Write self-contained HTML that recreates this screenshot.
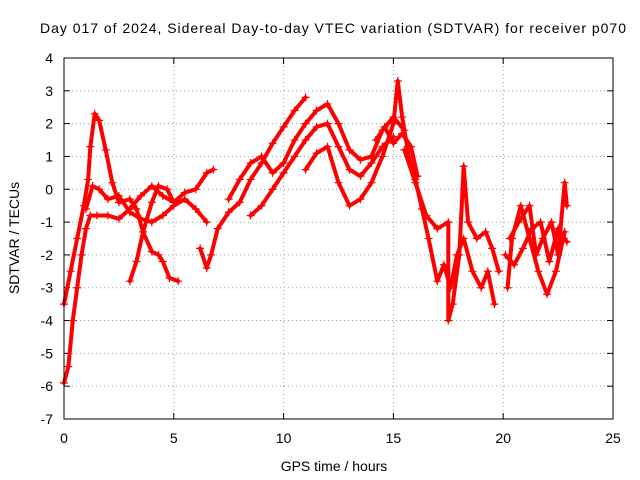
<!DOCTYPE html>
<html><head><meta charset="utf-8"><style>
body{margin:0;background:#fff}
svg{display:block;font-family:"Liberation Sans",sans-serif}
</style></head><body>
<svg id="chart" width="640" height="480">
<text x="333" y="33" text-anchor="middle" font-size="14" textLength="586">Day 017 of 2024, Sidereal Day-to-day VTEC variation (SDTVAR) for receiver p070</text>
<text x="334" y="471" text-anchor="middle" font-size="14">GPS time / hours</text>
<text transform="translate(19,238) rotate(-90)" text-anchor="middle" font-size="14">SDTVAR / TECUs</text>
<g id="grid"></g><g id="ticks"></g><g id="series"></g>
<rect x="64" y="58" width="549" height="361" fill="none" stroke="#000"/>
</svg>
<script>
const xTicks=[0,5,10,15,20,25];
const yTicks=[4,3,2,1,0,-1,-2,-3,-4,-5,-6,-7];
const track1=[[0,-5.9],[0.2,-5.4],[0.4,-4],[0.6,-3],[0.8,-2],[1.0,-1.2],[1.2,-0.8],[1.5,-0.8],[2,-0.8],[2.5,-0.9],[3,-0.6],[3.5,-0.2],[4,0.1],[4.5,-0.2],[5,-0.4],[5.5,-0.1],[6,0],[6.5,0.5],[6.8,0.6]];
const track2=[[0,-3.5],[0.3,-2.5],[0.6,-1.5],[0.9,-0.5],[1.1,0.3],[1.2,1.3],[1.4,2.3],[1.6,2.1],[1.9,1.2],[2.2,0.2],[2.5,-0.4],[3,-0.3],[3.3,-0.6],[3.6,-1.3],[4,-1.9],[4.3,-2],[4.5,-2.2],[4.8,-2.7],[5.2,-2.8]];
const track3=[[1,-0.6],[1.3,0.1],[1.6,0],[2,-0.3],[2.5,-0.2],[3,-0.7],[3.5,-0.9],[4,-1],[4.5,-0.8],[5,-0.5],[5.5,-0.3],[6,-0.6],[6.5,-1]];
const track4=[[3,-2.8],[3.3,-2.2],[3.6,-1.3],[4,-0.4],[4.3,0.1],[4.7,0],[5,-0.4]];
const track5=[[6.2,-1.8],[6.5,-2.4],[6.7,-2.0],[7,-1.2],[7.5,-0.7],[8,-0.4],[8.5,0.3],[9,0.8],[9.5,1.4],[10,1.9],[10.5,2.4],[11,2.8]];
const track6=[[7.5,-0.3],[8,0.3],[8.5,0.8],[9,1],[9.5,0.5],[10,0.8],[10.5,1.5],[11,2],[11.5,2.4],[12,2.6],[12.5,2],[13,1.2],[13.5,0.9],[14,1],[14.5,1.8],[15,2.2],[15.5,1.8]];
const track7=[[8.5,-0.8],[9,-0.5],[9.5,0],[10,0.5],[10.5,1],[11,1.5],[11.5,1.9],[12,2],[12.5,1.3],[13,0.6],[13.5,0.4],[14,0.8],[14.5,1.3],[15,1.6]];
const track8=[[11,0.6],[11.5,1.1],[12,1.3],[12.5,0.2],[13,-0.5],[13.5,-0.3],[14,0.2],[14.5,1],[15,2],[15.2,3.3],[15.4,2.2],[15.7,1],[16,0.3],[16.3,-0.6],[16.6,-1.5],[17,-2.8],[17.3,-2.3],[17.6,-3],[17.9,-2],[18.2,-1.5],[18.6,-2.5],[19,-3],[19.3,-2.5],[19.6,-3.5]];
const track9=[[15.5,1.2],[16,0.2],[16.5,-0.8],[17,-1.2],[17.5,-1],[17.5,-4],[17.7,-3.5],[18,-2],[18.2,0.7],[18.4,-1],[18.8,-1.5],[19.2,-1.3],[19.5,-1.8],[19.8,-2.5]];
const track10=[[20.2,-3],[20.4,-1.5],[20.8,-0.5],[21.2,-1.5],[21.6,-2.5],[22,-3.2],[22.4,-2.5],[22.8,-1.3]];
const track11=[[20.3,-1.5],[20.7,-1],[21.2,-0.5],[21.5,-2],[21.8,-1.5],[22.2,-1],[22.5,-2],[22.8,0.2],[22.9,-0.5]];
const track12=[[20.1,-2],[20.5,-2.3],[20.9,-1.8],[21.3,-1.2],[21.7,-1],[22.1,-2.2],[22.5,-1.2],[22.9,-1.6]];
const track13=[[14.2,1.5],[14.6,1.9],[15,1.4],[15.4,1.7],[15.8,1.3],[16.1,0.4]];
const tracks=[track1,track2,track3,track4,track5,track6,track7,track8,track9,track10,track11,track12,track13];

const NS="http://www.w3.org/2000/svg";
const X0=64,X1=613,Y0=419,Y1=58;
function xs(v){return X0+(v-0)/(25-0)*(X1-X0);}
function ys(v){return Y0-(v-(-7))/(4-(-7))*(Y0-Y1);}
function mk(tag,attrs,parent){const e=document.createElementNS(NS,tag);for(const k in attrs)e.setAttribute(k,attrs[k]);parent.appendChild(e);return e;}
const grid=document.getElementById('grid'),ticks=document.getElementById('ticks'),series=document.getElementById('series');
xTicks.forEach(t=>{
  const x=xs(t);
  if(t>0&&t<25){const g=mk('line',{x1:x,x2:x,y1:Y1,y2:Y0,stroke:'#a0a0a0','stroke-dasharray':'1,3'},grid);
  
  }
  mk('line',{x1:x,x2:x,y1:Y0,y2:Y0-6,stroke:'#000'},ticks);
  mk('line',{x1:x,x2:x,y1:Y1,y2:Y1+6,stroke:'#000'},ticks);
  const l=mk('text',{x:x,y:443,'text-anchor':'middle','font-size':'14'},ticks);l.textContent=t;
  
  
});
yTicks.forEach(t=>{
  const y=ys(t);
  if(t>-7&&t<4){const g=mk('line',{x1:X0,x2:X1,y1:y,y2:y,stroke:'#a0a0a0','stroke-dasharray':'1,3'},grid);
  
  }
  mk('line',{x1:X0,x2:X0+6,y1:y,y2:y,stroke:'#000'},ticks);
  mk('line',{x1:X1,x2:X1-6,y1:y,y2:y,stroke:'#000'},ticks);
  const l=mk('text',{x:53,y:y+5,'text-anchor':'end','font-size':'14'},ticks);l.textContent=t;
  
  
});
tracks.forEach((tr,i)=>{
  const g=mk('g',{},series);
  
  
  mk('polyline',{points:tr.map(p=>xs(p[0])+','+ys(p[1])).join(' '),fill:'none',stroke:'#f00','stroke-width':'4','stroke-linejoin':'round','stroke-linecap':'round'},g);
  tr.forEach(p=>{
    const x=xs(p[0]),y=ys(p[1]);
    const m=mk('path',{d:`M${x-4},${y}H${x+4}M${x},${y-4}V${y+4}`,stroke:'#f00','stroke-width':'1.2'},g);
    
    
  });
});
</script>
</body></html>
